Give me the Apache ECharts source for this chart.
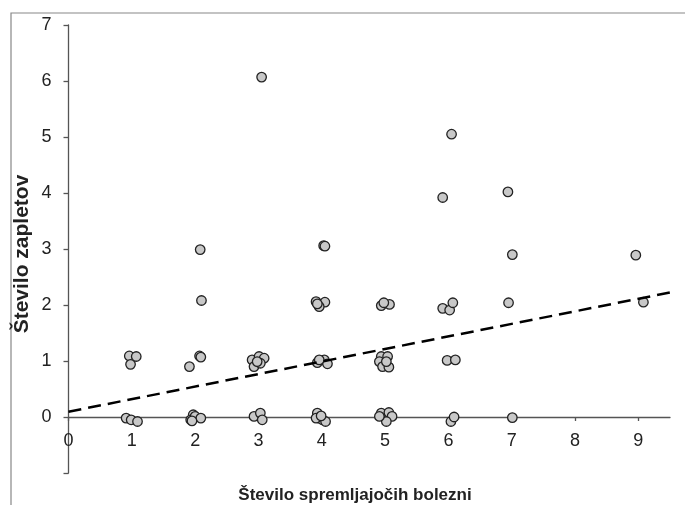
<!DOCTYPE html>
<html>
<head>
<meta charset="utf-8">
<script src="https://cdn.jsdelivr.net/npm/echarts@6/dist/echarts.min.js"></script>
<style>
html,body{margin:0;padding:0;background:#fff;}
#c{width:685px;height:505px;}
</style>
</head>
<body>
<div id="c"></div>
<script>
const pointX = [
  0.96,1.07,0.98,0.91,0.99,1.09,
  2.07,2.09,1.91,1.97,1.93,2.00,2.09,1.95,2.08,2.10,
  3.05,2.90,3.01,3.09,2.93,3.03,2.98,2.93,3.03,3.06,
  4.03,4.05,3.91,4.05,3.96,3.93,3.93,4.04,4.09,3.96,3.93,3.96,4.01,4.06,3.91,3.99,
  4.94,5.07,4.98,4.94,5.04,4.91,4.96,5.06,5.02,4.94,5.06,5.11,5.02,4.91,
  6.05,5.91,5.91,6.02,6.07,5.98,6.11,6.04,6.09,
  6.94,7.01,6.95,7.01,
  8.96,9.08
];
const pointY = [
  1.09,1.08,0.94,-0.02,-0.05,-0.08,
  1.09,1.07,0.90,0.04,-0.05,0.01,-0.02,-0.07,2.99,2.08,
  6.07,1.02,1.08,1.05,0.90,0.96,0.99,0.01,0.07,-0.05,
  3.06,3.05,2.06,2.05,1.97,2.02,0.97,1.02,0.95,1.02,0.07,-0.02,-0.05,-0.08,-0.02,0.02,
  1.99,2.01,2.04,1.08,1.08,0.99,0.90,0.89,0.99,0.07,0.08,0.01,-0.08,0.01,
  5.05,3.92,1.94,1.91,2.04,1.01,1.02,-0.08,0.00,
  4.02,2.90,2.04,-0.01,
  2.89,2.05
];
const trendX = [0, 9.5];
const trendY = [0.095, 2.223];
const xTicks = ['0','1','2','3','4','5','6','7','8','9'];
const yTicks = ['0','1','2','3','4','5','6','7'];
const xTitle = 'Število spremljajočih bolezni';
const yTitle = 'Število zapletov';

const FONT = '"Liberation Sans Narrow", "Liberation Sans", Arial, sans-serif';
const scatterData = pointX.map((x, i) => [x, pointY[i]]);
const trendData = trendX.map((x, i) => [x, trendY[i]]);

const Y_MIN = -1, Y_MAX = 7;
const GRID_TOP = 25, GRID_BOTTOM = 32, H = 505;
const plotH = H - GRID_TOP - GRID_BOTTOM;
// shift x axis from grid bottom up to the y = 0 level
const xAxisOffset = -plotH * (0 - Y_MIN) / (Y_MAX - Y_MIN);

const chart = echarts.init(document.getElementById('c'), null, {renderer: 'canvas'});
chart.setOption({
  animation: false,
  backgroundColor: '#fff',
  grid: {left: 68.5, right: 15, top: GRID_TOP, bottom: GRID_BOTTOM, containLabel: false},
  xAxis: {
    type: 'value', min: 0, max: 9.5, interval: 1, position: 'bottom', offset: xAxisOffset,
    axisLine: {show: true, onZero: false, lineStyle: {color: '#555', width: 1.3}},
    axisTick: {show: true, length: 4, lineStyle: {color: '#555', width: 1.3}},
    splitLine: {show: false},
    axisLabel: {
      margin: 15, color: '#222', fontSize: 18, fontFamily: FONT, showMaxLabel: false,
      formatter: v => (Number.isInteger(v) && xTicks.includes(String(v))) ? String(v) : ''
    }
  },
  yAxis: {
    type: 'value', min: Y_MIN, max: Y_MAX, interval: 1,
    axisLine: {show: true, onZero: false, lineStyle: {color: '#555', width: 1.3}},
    axisTick: {show: true, length: 5, lineStyle: {color: '#555', width: 1.3}},
    splitLine: {show: false},
    axisLabel: {
      margin: 17, color: '#222', fontSize: 18, fontFamily: FONT,
      formatter: v => yTicks.includes(String(v)) ? String(v) : ''
    }
  },
  graphic: [
    {type: 'rect', shape: {x: 11, y: 13, width: 800, height: 700}, style: {fill: null, stroke: '#888', lineWidth: 1.2}, silent: true, z: -1},
    {type: 'text', style: {text: xTitle, font: 'bold 17px ' + FONT, fill: '#222', textAlign: 'center', textVerticalAlign: 'middle'}, x: 355, y: 495, silent: true},
    {type: 'text', style: {text: yTitle, font: 'bold 21px ' + FONT, fill: '#222', textAlign: 'center', textVerticalAlign: 'middle'}, x: 22, y: 254, rotation: Math.PI / 2, silent: true}
  ],
  series: [
    {
      type: 'scatter', data: scatterData, symbol: 'circle', symbolSize: 9.5,
      itemStyle: {color: '#c8c8c8', borderColor: '#222', borderWidth: 1.3, opacity: 1},
      z: 2
    },
    {
      type: 'line', data: trendData, symbol: 'none', silent: true,
      lineStyle: {color: '#000', width: 2.5, type: [13, 7]},
      z: 3
    }
  ]
});
</script>
</body>
</html>
